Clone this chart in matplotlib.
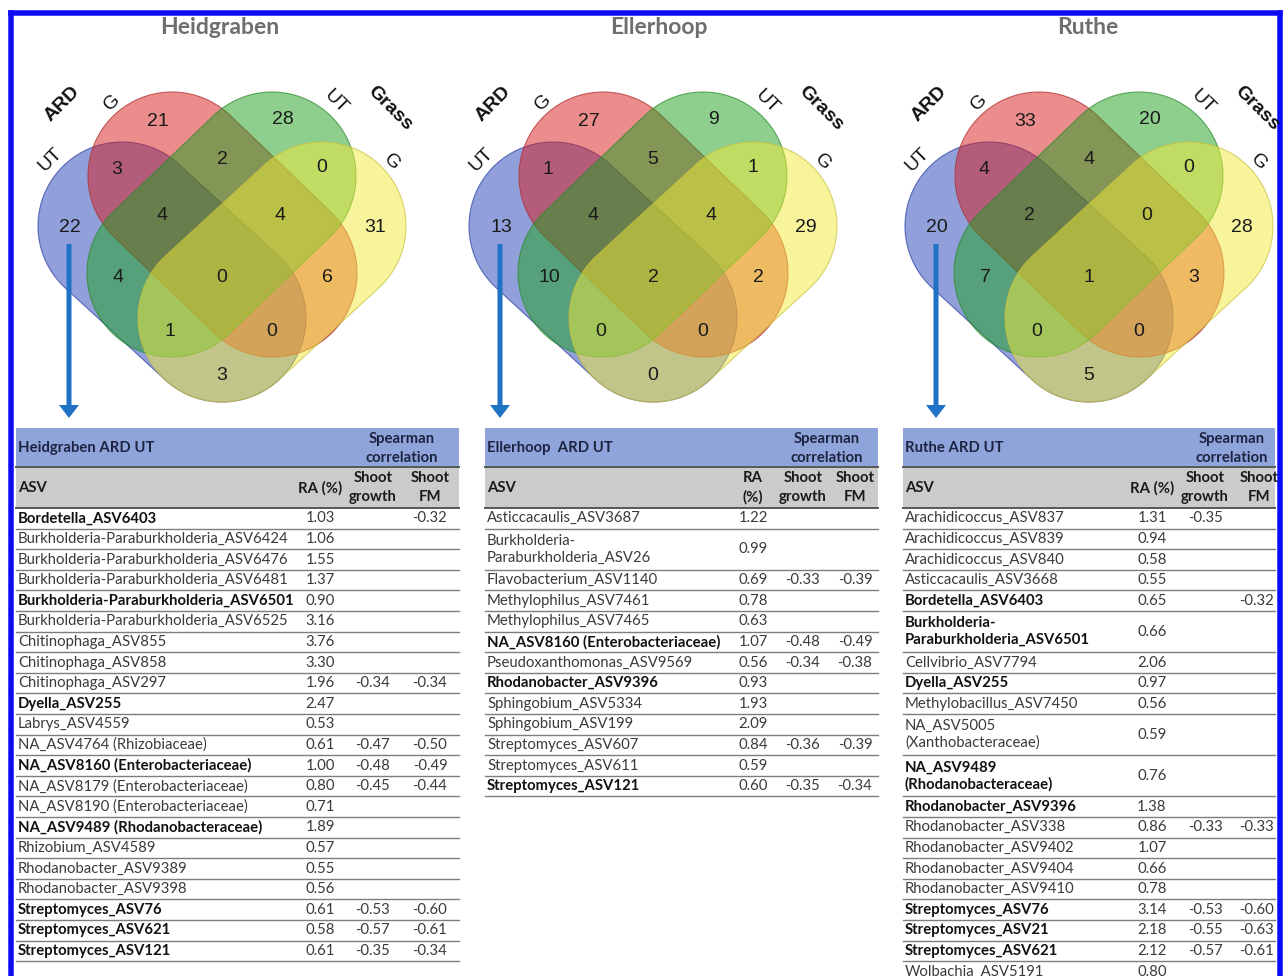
import numpy as np
import matplotlib
matplotlib.use("Agg")
import matplotlib.pyplot as plt
from matplotlib.patches import Polygon, Rectangle, FancyArrow

plt.rcParams["font.family"] = ["Lato", "DejaVu Sans"]

# ---- Venn counts (order: UT_ARD, G_ARD, UT_Grass, G_Grass, then overlaps) ----
region_keys = ["b", "r", "g", "y", "br", "rg", "gy", "brg", "rgy", "brgy",
               "bg", "ry", "bgy", "bry", "by"]
venn_sites = ["Heidgraben", "Ellerhoop", "Ruthe"]
heidgraben_counts = [22, 21, 28, 31, 3, 2, 0, 4, 4, 0, 4, 6, 1, 0, 3]
ellerhoop_counts = [13, 27, 9, 29, 1, 5, 1, 4, 4, 2, 10, 2, 0, 0, 0]
ruthe_counts = [20, 33, 20, 28, 4, 4, 0, 2, 0, 1, 7, 3, 0, 0, 5]

# ---- ARD UT tables ----
heid_title = "Heidgraben ARD UT"
heid_asv = ["Bordetella_ASV6403", "Burkholderia-Paraburkholderia_ASV6424",
            "Burkholderia-Paraburkholderia_ASV6476", "Burkholderia-Paraburkholderia_ASV6481",
            "Burkholderia-Paraburkholderia_ASV6501", "Burkholderia-Paraburkholderia_ASV6525",
            "Chitinophaga_ASV855", "Chitinophaga_ASV858", "Chitinophaga_ASV297",
            "Dyella_ASV255", "Labrys_ASV4559", "NA_ASV4764 (Rhizobiaceae)",
            "NA_ASV8160 (Enterobacteriaceae)", "NA_ASV8179 (Enterobacteriaceae)",
            "NA_ASV8190 (Enterobacteriaceae)", "NA_ASV9489 (Rhodanobacteraceae)",
            "Rhizobium_ASV4589", "Rhodanobacter_ASV9389", "Rhodanobacter_ASV9398",
            "Streptomyces_ASV76", "Streptomyces_ASV621", "Streptomyces_ASV121"]
heid_ra = [1.03, 1.06, 1.55, 1.37, 0.90, 3.16, 3.76, 3.30, 1.96, 2.47, 0.53, 0.61,
           1.00, 0.80, 0.71, 1.89, 0.57, 0.55, 0.56, 0.61, 0.58, 0.61]
heid_growth = [None, None, None, None, None, None, None, None, -0.34, None, None, -0.47,
               -0.48, -0.45, None, None, None, None, None, -0.53, -0.57, -0.35]
heid_fm = [-0.32, None, None, None, None, None, None, None, -0.34, None, None, -0.50,
           -0.49, -0.44, None, None, None, None, None, -0.60, -0.61, -0.34]
heid_bold = [1, 0, 0, 0, 1, 0, 0, 0, 0, 1, 0, 0, 1, 0, 0, 1, 0, 0, 0, 1, 1, 1]

elle_title = "Ellerhoop  ARD UT"
elle_asv = ["Asticcacaulis_ASV3687", "Burkholderia-\nParaburkholderia_ASV26",
            "Flavobacterium_ASV1140", "Methylophilus_ASV7461", "Methylophilus_ASV7465",
            "NA_ASV8160 (Enterobacteriaceae)", "Pseudoxanthomonas_ASV9569",
            "Rhodanobacter_ASV9396", "Sphingobium_ASV5334", "Sphingobium_ASV199",
            "Streptomyces_ASV607", "Streptomyces_ASV611", "Streptomyces_ASV121"]
elle_ra = [1.22, 0.99, 0.69, 0.78, 0.63, 1.07, 0.56, 0.93, 1.93, 2.09, 0.84, 0.59, 0.60]
elle_growth = [None, None, -0.33, None, None, -0.48, -0.34, None, None, None, -0.36, None, -0.35]
elle_fm = [None, None, -0.39, None, None, -0.49, -0.38, None, None, None, -0.39, None, -0.34]
elle_bold = [0, 0, 0, 0, 0, 1, 0, 1, 0, 0, 0, 0, 1]

ruthe_title = "Ruthe ARD UT"
ruthe_asv = ["Arachidicoccus_ASV837", "Arachidicoccus_ASV839", "Arachidicoccus_ASV840",
             "Asticcacaulis_ASV3668", "Bordetella_ASV6403",
             "Burkholderia-\nParaburkholderia_ASV6501", "Cellvibrio_ASV7794",
             "Dyella_ASV255", "Methylobacillus_ASV7450", "NA_ASV5005\n(Xanthobacteraceae)",
             "NA_ASV9489\n(Rhodanobacteraceae)", "Rhodanobacter_ASV9396",
             "Rhodanobacter_ASV338", "Rhodanobacter_ASV9402", "Rhodanobacter_ASV9404",
             "Rhodanobacter_ASV9410", "Streptomyces_ASV76", "Streptomyces_ASV21",
             "Streptomyces_ASV621", "Wolbachia_ASV5191"]
ruthe_ra = [1.31, 0.94, 0.58, 0.55, 0.65, 0.66, 2.06, 0.97, 0.56, 0.59, 0.76, 1.38,
            0.86, 1.07, 0.66, 0.78, 3.14, 2.18, 2.12, 0.80]
ruthe_growth = [-0.35, None, None, None, None, None, None, None, None, None, None, None,
                -0.33, None, None, None, -0.53, -0.55, -0.57, None]
ruthe_fm = [None, None, None, None, -0.32, None, None, None, None, None, None, None,
            -0.33, None, None, None, -0.60, -0.63, -0.61, None]
ruthe_bold = [0, 0, 0, 0, 1, 1, 0, 1, 0, 0, 1, 1, 0, 0, 0, 0, 1, 1, 1, 0]


W, H = 1288, 976
fig = plt.figure(figsize=(W / 100, H / 100), dpi=100)
ax = fig.add_axes([0, 0, 1, 1])
ax.set_xlim(0, W)
ax.set_ylim(H, 0)
ax.axis("off")

PT = 0.72  # px -> pt


def stadium(c1, c2, r, n=80):
    c1, c2 = np.asarray(c1, float), np.asarray(c2, float)
    u = (c2 - c1) / np.linalg.norm(c2 - c1)
    base = np.arctan2(u[1], u[0])
    a2 = np.linspace(base - np.pi / 2, base + np.pi / 2, n)
    a1 = np.linspace(base + np.pi / 2, base + 3 * np.pi / 2, n)
    pts = np.vstack([c2 + r * np.c_[np.cos(a2), np.sin(a2)],
                     c1 + r * np.c_[np.cos(a1), np.sin(a1)]])
    return pts


# end-circle centres of each set relative to the diagram centre
R = 84
shapes = [
    ((-100, 226), (0, 318), "#2443b8", "#2a3fa0"),    # ARD UT
    ((-50, 176), (51, 273), "#d81c1c", "#b02a2a"),    # ARD G
    ((50, 176), (-51, 273), "#1ea01e", "#2a8a2a"),    # Grass UT
    ((100, 226), (0, 318), "#f2ea3a", "#c8c040"),     # Grass G
]
num_pos = [(-152, 228), (-64, 122), (61, 120), (153, 227), (-105, 170), (0, 160),
           (100, 167), (-60, 215), (58, 215), (0, 277), (-104, 278), (105, 277),
           (-52, 332), (50, 331), (0, 376)]
venn_cx = [222, 653, 1089]
title_x = [220, 659, 1088]
all_counts = [heidgraben_counts, ellerhoop_counts, ruthe_counts]

for site, cx, tx, counts in zip(venn_sites, venn_cx, title_x, all_counts):
    ax.text(tx, 28, site, ha="center", va="center", fontsize=16.5, fontweight="bold",
            color="#6e6e6e")
    for c1, c2, fc, ec in shapes:
        pts = stadium((cx + c1[0], c1[1]), (cx + c2[0], c2[1]), R)
        ax.add_patch(Polygon(pts, closed=True, facecolor=fc, alpha=0.5, edgecolor="none"))
        ax.add_patch(Polygon(pts, closed=True, facecolor="none", edgecolor=ec,
                             lw=0.8, alpha=0.7))
    for (dx, y), v in zip(num_pos, counts):
        ax.text(cx + dx, y, str(v), ha="center", va="center", fontsize=14,
                family="Liberation Sans", color="#1a1a1a")
    lab = dict(family="Liberation Sans", fontsize=14, color="#111111",
               ha="center", va="center")
    ax.text(cx - 160, 104, "ARD", rotation=45, fontweight="bold", **lab)
    ax.text(cx - 110, 102, "G", rotation=45, **lab)
    ax.text(cx + 114, 102, "UT", rotation=-45, **lab)
    ax.text(cx + 168, 108, "Grass", rotation=-45, fontweight="bold", **lab)
    ax.text(cx - 172, 160, "UT", rotation=45, **lab)
    ax.text(cx + 170, 162, "G", rotation=-45, **lab)
    ax.add_patch(FancyArrow(cx - 153, 244, 0, 174, width=5, head_width=20,
                            head_length=13, length_includes_head=True,
                            color="#1f72c4", lw=0))

# ---- tables ----
ROW = 20.6
TOP = 428
MID = 467
HEAD_END = 508
tables = [
    dict(title=heid_title, asv=heid_asv, ra=heid_ra, gr=heid_growth, fm=heid_fm,
         bold=heid_bold, x0=16, x1=459, tx=18, rax=320, gx=373, fx=430, spx=402,
         rahead=["RA (%)"], gh=373, fh=430),
    dict(title=elle_title, asv=elle_asv, ra=elle_ra, gr=elle_growth, fm=elle_fm,
         bold=elle_bold, x0=485, x1=878, tx=487, rax=753, gx=803, fx=855, spx=827,
         rahead=["RA", "(%)"], gh=803, fh=855),
    dict(title=ruthe_title, asv=ruthe_asv, ra=ruthe_ra, gr=ruthe_growth, fm=ruthe_fm,
         bold=ruthe_bold, x0=903, x1=1275, tx=905, rax=1152, gx=1206, fx=1257, spx=1232,
         rahead=["RA (%)"], gh=1205, fh=1259),
]

FS = 10.7
hdr_col = "#1c2440"
for t in tables:
    x0, x1 = t["x0"], t["x1"]
    ax.add_patch(Rectangle((x0, TOP), x1 - x0, MID - TOP, facecolor="#90a4dc", lw=0))
    ax.add_patch(Rectangle((x0, MID), x1 - x0, HEAD_END - MID, facecolor="#cbcbcb", lw=0))
    ax.plot([x0, x1], [MID, MID], color="#5a5a5a", lw=2 * PT)
    ax.plot([x0, x1], [HEAD_END, HEAD_END], color="#5a5a5a", lw=2 * PT)
    ax.text(t["tx"], 448, t["title"], ha="left", va="center", fontsize=FS,
            fontweight="bold", color=hdr_col)
    ax.text(t["spx"], 439, "Spearman", ha="center", va="center", fontsize=FS,
            fontweight="bold", color=hdr_col)
    ax.text(t["spx"], 458, "correlation", ha="center", va="center", fontsize=FS,
            fontweight="bold", color=hdr_col)
    ax.text(t["tx"], 488, "ASV", ha="left", va="center", fontsize=FS,
            fontweight="bold", color="#1a1a1a")
    if len(t["rahead"]) == 1:
        ax.text(t["rax"], 488, t["rahead"][0], ha="center", va="center", fontsize=FS,
                fontweight="bold", color="#1a1a1a")
    else:
        for yy, s in zip([478, 497], t["rahead"]):
            ax.text(t["rax"], yy, s, ha="center", va="center", fontsize=FS,
                    fontweight="bold", color="#1a1a1a")
    for xx, s2 in [(t["gh"], "growth"), (t["fh"], "FM")]:
        ax.text(xx, 478, "Shoot", ha="center", va="center", fontsize=FS,
                fontweight="bold", color="#1a1a1a")
        ax.text(xx, 497, s2, ha="center", va="center", fontsize=FS,
                fontweight="bold", color="#1a1a1a")

    y = HEAD_END
    for name, ra, gr, fm, b in zip(t["asv"], t["ra"], t["gr"], t["fm"], t["bold"]):
        lines = name.split("\n")
        h = ROW * len(lines)
        yc = y + h / 2
        w = "bold" if b else "normal"
        col = "#111111" if b else "#3a3a3a"
        if len(lines) == 1:
            ax.text(t["tx"], yc, name, ha="left", va="center", fontsize=FS,
                    fontweight=w, color=col)
        else:
            for k, ln in enumerate(lines):
                ax.text(t["tx"], yc + (k - 0.5) * 16.8, ln, ha="left", va="center",
                        fontsize=FS, fontweight=w, color=col)
        ax.text(t["rax"], yc, f"{ra:.2f}", ha="center", va="center", fontsize=FS,
                color="#3a3a3a")
        if gr is not None:
            ax.text(t["gx"], yc, f"{gr:.2f}", ha="center", va="center", fontsize=FS,
                    color="#3a3a3a")
        if fm is not None:
            ax.text(t["fx"], yc, f"{fm:.2f}", ha="center", va="center", fontsize=FS,
                    color="#3a3a3a")
        y += h
        ax.plot([x0, x1], [y, y], color="#7d7d7d", lw=1.4 * PT)

# blue frame
frame = dict(color="#0b0bf5", lw=5.5 * PT, solid_capstyle="projecting")
ax.plot([11, 11], [13, H + 5], **frame)
ax.plot([11, 1280], [13, 13], **frame)
ax.plot([1280, 1280], [13, H + 5], **frame)

fig.savefig("out.png", dpi=100)
